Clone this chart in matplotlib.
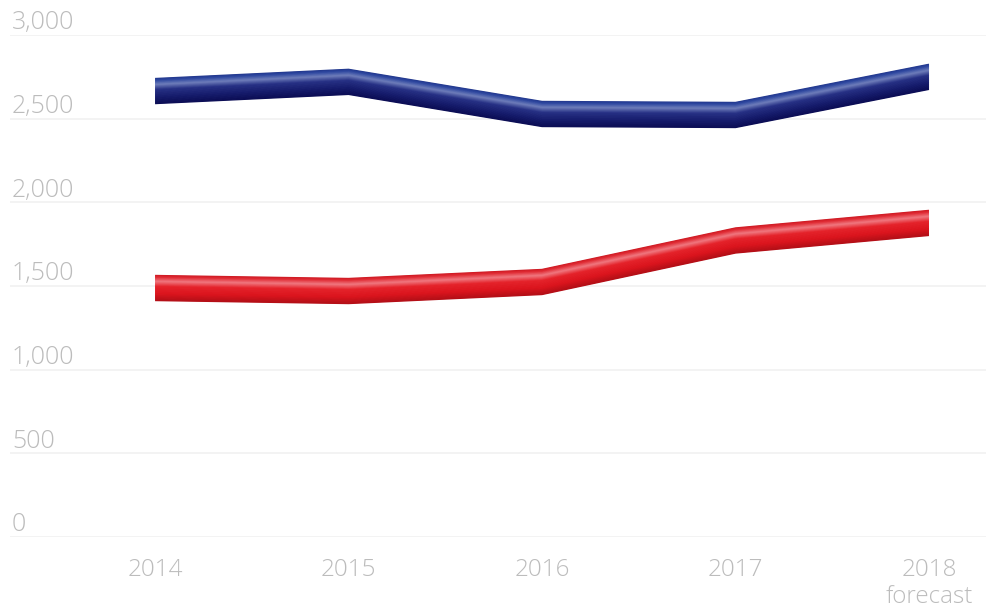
import numpy as np
import matplotlib
matplotlib.use("Agg")
import matplotlib.pyplot as plt
from matplotlib.transforms import ScaledTranslation

# data
years = ["2014", "2015", "2016", "2017", "2018\nforecast"]
blue_values = [2665, 2720, 2528, 2522, 2750]
red_values = [1488, 1470, 1524, 1772, 1877]
y_ticks = [0, 500, 1000, 1500, 2000, 2500, 3000]

plt.rcParams["font.family"] = ["Open Sans", "DejaVu Sans"]
text_color = "#bcbcbc"

fig = plt.figure(figsize=(9.87, 6.11), dpi=100)
ax = fig.add_axes([10 / 987, 74 / 611, 977 / 987, 502 / 611])
x = np.arange(len(years))
ax.set_xlim(-0.75, 4.30)
ax.set_ylim(0, 3000)

# gridlines and y labels
for v in y_ticks:
    ax.axhline(v, color="#f2f2f2", lw=1.3, zorder=0)
    ax.text(0.002, v + 33, f"{v:,}", transform=ax.get_yaxis_transform(),
            ha="left", va="baseline", fontsize=18, color=text_color,
            fontweight="light")

for s in ax.spines.values():
    s.set_visible(False)
ax.set_yticks([])
ax.set_xticks(x)
ax.set_xticklabels(years, fontsize=17.5, color=text_color, fontweight="light",
                   linespacing=1.15)
ax.tick_params(axis="x", length=0, pad=15)


def tube(values, stops):
    # draw the thick line as thin offset strips to fake a shaded tube
    half = 12.5
    offsets = np.linspace(half, -half, 40)
    pos = [p for p, c in stops]
    cols = np.array([matplotlib.colors.to_rgb(c) for p, c in stops])
    for off in offsets:
        t = (half - off) / (2 * half)
        rgb = [np.interp(t, pos, cols[:, k]) for k in range(3)]
        tr = ax.transData + ScaledTranslation(0, off / 100, fig.dpi_scale_trans)
        ax.plot(x, values, color=rgb, lw=1.0, transform=tr,
                solid_capstyle="butt", solid_joinstyle="miter", zorder=3)


tube(blue_values, [(0.0, "#23398f"), (0.08, "#2d47a0"), (0.25, "#6e7dba"),
                   (0.45, "#273185"), (0.75, "#161c6c"), (1.0, "#0c0e56")])
tube(red_values, [(0.0, "#cf1b24"), (0.08, "#e02a33"), (0.25, "#f07880"),
                  (0.45, "#e5232b"), (0.75, "#db141d"), (1.0, "#b50f17")])

fig.savefig("out.png", dpi=100)
